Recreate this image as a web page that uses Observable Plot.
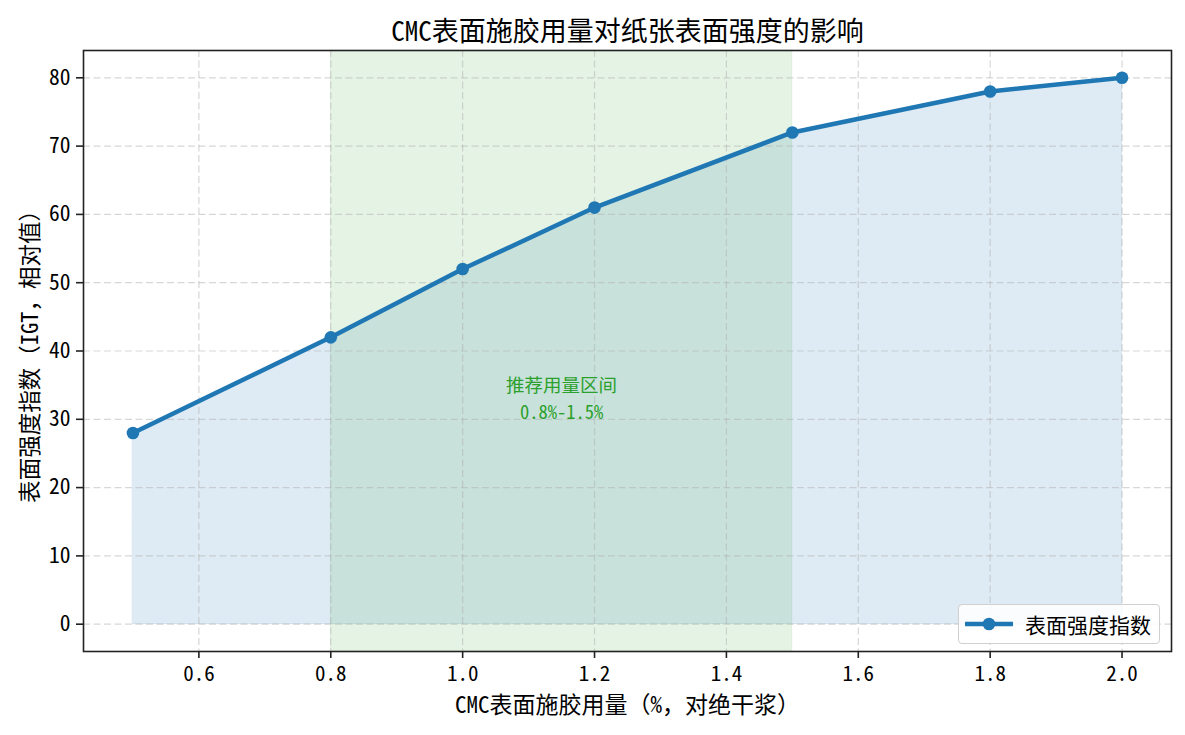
<!DOCTYPE html>
<html>
<head>
<meta charset="utf-8">
<script src="https://cdn.jsdelivr.net/npm/d3@7"></script>
<script src="https://cdn.jsdelivr.net/npm/@observablehq/plot@0.6"></script>
<style>
  html, body { margin: 0; padding: 0; background: #fff; overflow: hidden; }
  #wrap { position: relative; width: 1185px; height: 735px; }
  #legend {
    position: absolute; left: 958px; top: 604px; width: 202px; height: 40px;
    box-sizing: border-box; border: 1px solid #d0d0d0; border-radius: 4px;
    background: rgba(255,255,255,0.85);
    font-family: "Noto Sans Mono CJK SC", "Noto Sans CJK SC", sans-serif; font-size: 21px; color: #000;
    display: flex; align-items: center; white-space: nowrap;
  }
  #legend svg { margin-left: 6px; margin-right: 12px; flex: none; }
</style>
</head>
<body>
<div id="wrap"></div>
<script>
const doses = [0.5, 0.8, 1.0, 1.2, 1.5, 1.8, 2.0];
const strength = [28, 42, 52, 61, 72, 78, 80];
const xTicks = [0.6, 0.8, 1.0, 1.2, 1.4, 1.6, 1.8, 2.0];
const yTicks = [0, 10, 20, 30, 40, 50, 60, 70, 80];
const spanRange = [0.8, 1.5];
const annotationPos = [1.15, 32.85];

const titleText = "CMC表面施胶用量对纸张表面强度的影响";
const xLabel = "CMC表面施胶用量（%，对绝干浆）";
const yLabel = "表面强度指数（IGT，相对值）";
const annotationLines = ["推荐用量区间", "0.8%-1.5%"];
const seriesName = "表面强度指数";

const FONT = '"Noto Sans Mono CJK SC", "Noto Sans CJK SC", sans-serif';
const blue = "#1f77b4";
const green = "#2ca02c";

const data = doses.map((d, i) => ({x: d, y: strength[i]}));
const span = [{x1: spanRange[0], x2: spanRange[1]}];

const chart = Plot.plot({
  width: 1185,
  height: 735,
  marginLeft: 83,
  marginRight: 14,
  marginTop: 50,
  marginBottom: 84,
  style: {fontFamily: FONT, background: "#fff", color: "#000"},
  x: {domain: [0.425, 2.075]},
  y: {domain: [-4, 84]},
  marks: [
    Plot.areaY(data, {x: "x", y: "y", fill: blue, fillOpacity: 0.15, stroke: blue, strokeOpacity: 0.12}),
    Plot.rect(span, {x1: "x1", x2: "x2", y1: -4, y2: 84, fill: green, fillOpacity: 0.12, stroke: green, strokeOpacity: 0.08}),
    Plot.gridX(xTicks, {stroke: "#b0b0b0", strokeOpacity: 0.5, strokeDasharray: "7,3.5", strokeWidth: 1.2}),
    Plot.gridY(yTicks, {stroke: "#b0b0b0", strokeOpacity: 0.5, strokeDasharray: "7,3.5", strokeWidth: 1.2}),
    Plot.line(data, {x: "x", y: "y", stroke: blue, strokeWidth: 4.5}),
    Plot.dot(data, {x: "x", y: "y", fill: blue, r: 6.3}),
    Plot.text([annotationLines[0]], {x: annotationPos[0], y: annotationPos[1], text: d => d, fill: green, fontSize: 18.5, textAnchor: "middle", lineAnchor: "middle", dy: -13.5}),
    Plot.text([annotationLines[1]], {x: annotationPos[0], y: annotationPos[1], text: d => d, fill: green, fontSize: 18.5, textAnchor: "middle", lineAnchor: "middle", dy: 13.5}),
    Plot.frame({stroke: "#222", strokeWidth: 1.6}),
    Plot.axisX(xTicks, {tickFormat: d3.format(".1f"), tickSize: 7, tickPadding: 8, fontSize: 21, label: null, stroke: "#222", strokeWidth: 1.6}),
    Plot.axisY(yTicks, {tickFormat: d => String(d), tickSize: 7, tickPadding: 6, fontSize: 21.5, label: null, stroke: "#222", strokeWidth: 1.6}),
    Plot.text([titleText], {frameAnchor: "top", dy: -18, text: d => d, fontSize: 27, textAnchor: "middle", lineAnchor: "middle", fill: "#000"}),
    Plot.text([xLabel], {frameAnchor: "bottom", dy: 54, text: d => d, fontSize: 23, textAnchor: "middle", lineAnchor: "middle", fill: "#000"}),
    Plot.text([yLabel], {frameAnchor: "left", dx: -53, rotate: -90, text: d => d, fontSize: 22.5, textAnchor: "middle", lineAnchor: "middle", fill: "#000"})
  ]
});

const wrap = document.getElementById("wrap");
wrap.appendChild(chart);

const legend = document.createElement("div");
legend.id = "legend";
legend.innerHTML = `<svg width="48" height="16"><line x1="0" y1="8" x2="48" y2="8" stroke="${blue}" stroke-width="4.5"/><circle cx="24" cy="8" r="6.3" fill="${blue}"/></svg><span>${seriesName}</span>`;
wrap.appendChild(legend);
</script>
</body>
</html>
